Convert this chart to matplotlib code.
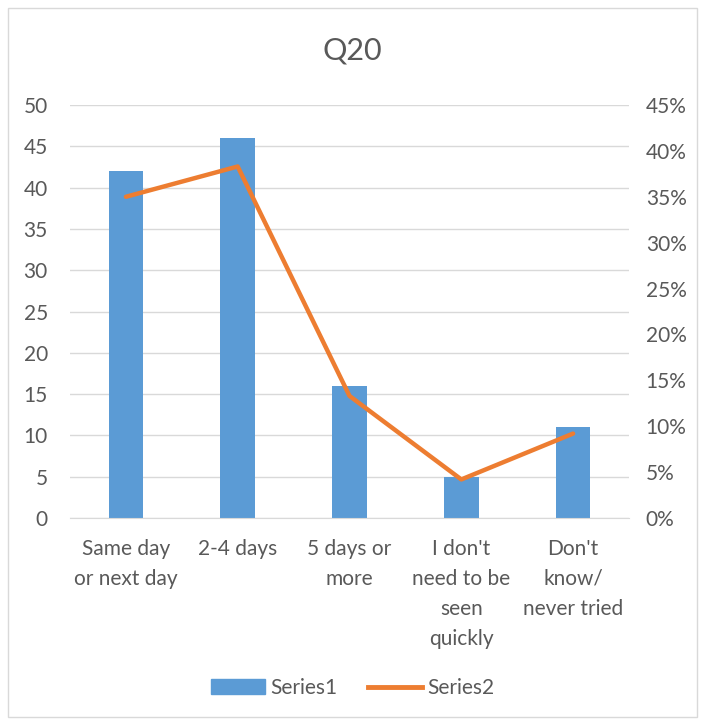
import matplotlib
matplotlib.use("Agg")
import matplotlib.pyplot as plt
from matplotlib.patches import Rectangle
from matplotlib.lines import Line2D
from matplotlib.ticker import FuncFormatter, MultipleLocator

categories = ["Same day\nor next day", "2-4 days", "5 days or\nmore", "I don't\nneed to be\nseen\nquickly", "Don't\nknow/\nnever tried"]
series1 = [42, 46, 16, 5, 11]
series2 = [0.35, 0.383, 0.133, 0.042, 0.092]

plt.rcParams['font.family'] = ['Lato', 'DejaVu Sans']
txt = '#595959'
grid = '#d9d9d9'
fs = 15

fig = plt.figure(figsize=(7.05, 7.24), dpi=100)
fig.patch.set_facecolor('white')
fig.add_artist(Rectangle((8/705, 1-717/724), 689/705, 709/724, transform=fig.transFigure,
                         fill=False, edgecolor='#d9d9d9', lw=1))

ax = fig.add_axes([70/705, 1-518/724, 559/705, 413/724])
x = list(range(len(categories)))
ax.bar(x, series1, width=0.31, color='#5B9BD5', zorder=2)
ax.set_ylim(0, 50)
ax.set_xlim(-0.5, len(categories)-0.5)
ax.yaxis.set_major_locator(MultipleLocator(5))
ax.grid(axis='y', color=grid, lw=1, zorder=0)
for s in ax.spines.values():
    s.set_visible(False)
ax.spines['bottom'].set_visible(True)
ax.spines['bottom'].set_color(grid)
ax.tick_params(axis='both', length=0, colors=txt, labelsize=fs)
ax.tick_params(axis='y', pad=16)
ax.tick_params(axis='x', pad=15)
ax.set_xticks(x)
ax.set_xticklabels(categories, linespacing=1.62)

ax2 = ax.twinx()
ax2.plot(x, series2, color='#ED7D31', lw=3.2, zorder=3, solid_capstyle='round')
ax2.set_ylim(0, 0.45)
ax2.yaxis.set_major_locator(MultipleLocator(0.05))
ax2.yaxis.set_major_formatter(FuncFormatter(lambda v, p: f"{v*100:.0f}%"))
for s in ax2.spines.values():
    s.set_visible(False)
ax2.tick_params(axis='y', length=0, colors=txt, labelsize=fs, pad=12)

fig.text(0.5, 1-50/724, "Q20", ha='center', va='center', fontsize=22, color=txt)

handles = [Rectangle((0, 0), 1, 1, color='#5B9BD5'), Line2D([0], [0], color='#ED7D31', lw=3.5)]
fig.legend(handles, ["Series1", "Series2"], loc='center', bbox_to_anchor=(0.5, 1-688/724),
           ncol=2, frameon=False, fontsize=fs, labelcolor=txt, handlelength=2.6,
           handleheight=0.75, columnspacing=1.45, handletextpad=0.25)

fig.savefig("out.png", dpi=100)
